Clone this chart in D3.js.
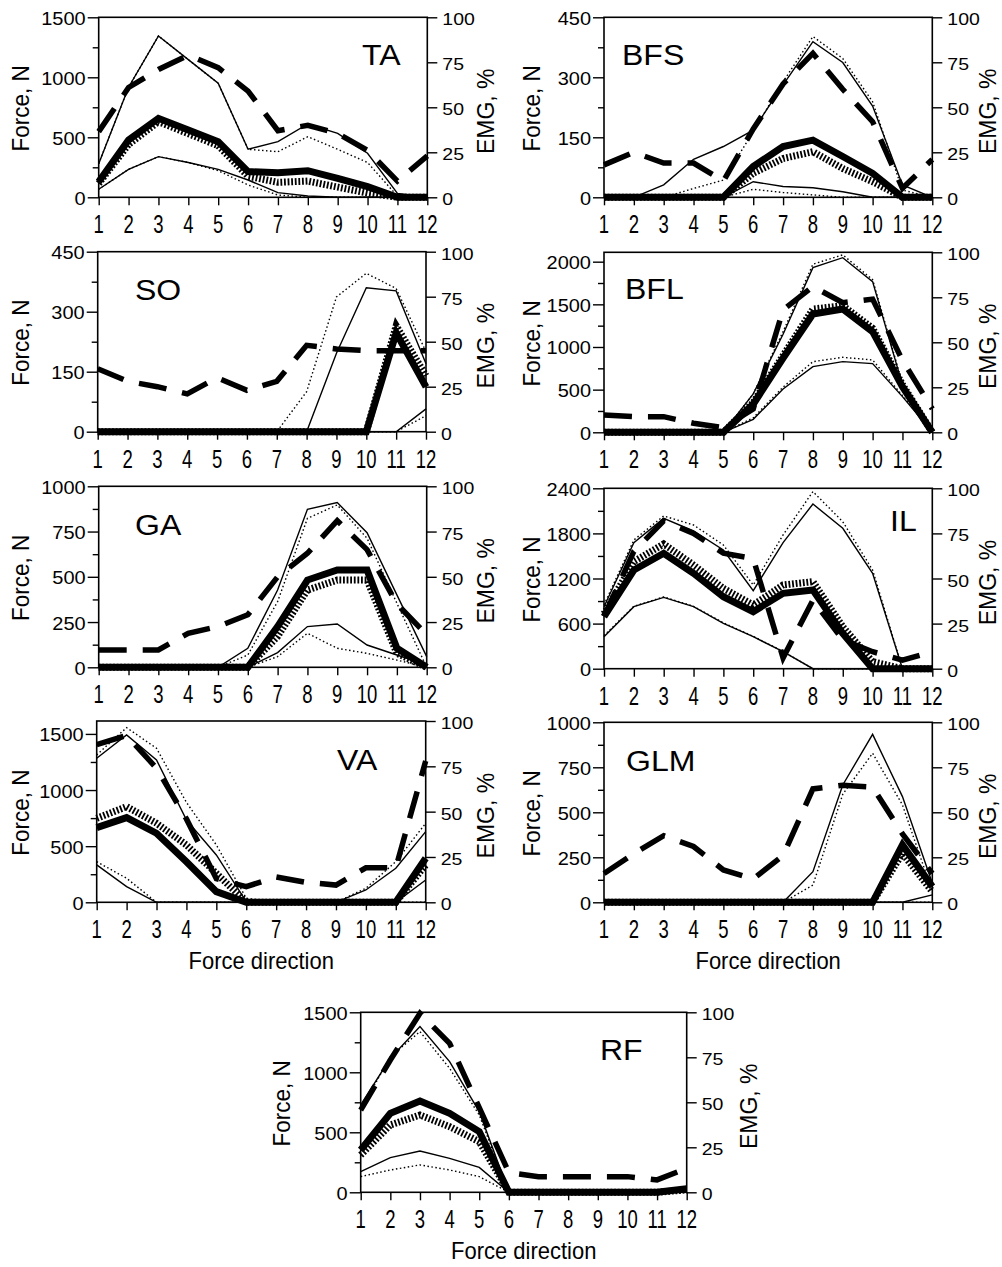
<!DOCTYPE html>
<html><head><meta charset="utf-8">
<script src="https://cdn.jsdelivr.net/npm/d3@7"></script>
<style>
body{margin:0;background:#fff}
svg{display:block}
text{font-family:"Liberation Sans",Arial,Helvetica,sans-serif;fill:#000}
</style></head>
<body><svg id="c" width="1002" height="1267"></svg>
<script>
// ---------- categories & ticks ----------
const directions = [1,2,3,4,5,6,7,8,9,10,11,12];
const emgTicks = [0,25,50,75,100];
const taForceTicks = [0,500,1000,1500],  taMinorTicks = [250,750,1250];
const bfsForceTicks = [0,150,300,450],   bfsMinorTicks = [75,225,375];
const soForceTicks = [0,150,300,450],    soMinorTicks = [75,225,375];
const bflForceTicks = [0,500,1000,1500,2000], bflMinorTicks = [250,750,1250,1750];
const gaForceTicks = [0,250,500,750,1000], gaMinorTicks = [125,375,625,875];
const ilForceTicks = [0,600,1200,1800,2400], ilMinorTicks = [300,900,1500,2100];
const vaForceTicks = [0,500,1000,1500],  vaMinorTicks = [250,750,1250];
const glmForceTicks = [0,250,500,750,1000], glmMinorTicks = [125,375,625,875];
const rfForceTicks = [0,500,1000,1500],  rfMinorTicks = [250,750,1250];

// ---------- series values (force, N ; EMG, %) ----------
// TA
const taThinHi  = [280,917,1344,1147,950,400,464,611,533,367,33,0];
const taDotHi   = [280,917,1344,1147,950,400,380,505,400,290,10,0];
const taThick   = [130,478,658,561,464,214,205,222,158,89,0,0];
const taHatch   = [115,440,630,530,430,175,125,135,85,35,0,0];
const taThinLo  = [67,233,339,290,233,144,39,11,0,0,0,0];
const taDotLo   = [67,233,339,290,222,103,19,0,0,0,0,0];
const taEmg     = [36.5,61,71,79,72,59,37,40,35.5,26,9,23];
// BFS
const bfsThinHi = [0,0,31,95,127,168,281,389,337,228,31,0];
const bfsDotHi  = [0,0,0,22,43,164,289,402,347,239,18,0];
const bfsThick  = [0,0,0,0,0,77,127,143,102,60,0,0];
const bfsHatch  = [0,0,0,0,0,60,97,114,72,39,0,0];
const bfsThinLo = [0,0,0,0,0,39,27,24,14,0,0,0];
const bfsDotLo  = [0,0,0,0,0,20,12,6,0,0,0,0];
const bfsEmg    = [18,25,19,19,9,38,63,80,60,42,5,21];
// SO
const soThinHi  = [0,0,0,0,0,0,0,0,196,360,352,170];
const soDotHi   = [0,0,0,0,0,0,0,100,337,396,358,200];
const soThick   = [0,0,0,0,0,0,0,0,0,0,247,112];
const soHatch   = [0,0,0,0,0,0,0,0,0,0,265,140];
const soThinLo  = [0,0,0,0,0,0,0,0,0,0,0,57];
const soDotLo   = [0,0,0,0,0,0,0,0,0,0,0,40];
const soEmg     = [35,28,25,21,30,23,28,48,46,45,45,45];
// BFL
const bflThinHi = [0,0,0,0,0,450,1150,1930,2047,1766,555,0];
const bflDotHi  = [0,0,0,0,0,450,1180,1970,2080,1790,570,0];
const bflThick  = [0,0,0,0,0,330,870,1387,1445,1180,535,0];
const bflHatch  = [0,0,0,0,0,350,900,1445,1484,1220,560,0];
const bflThinLo = [0,0,0,0,0,152,508,770,828,805,418,0];
const bflDotLo  = [0,0,0,0,0,170,530,828,879,848,430,0];
const bflEmg    = [9.6,8.7,8.7,5,2.6,13,68,81,72,74,40,13];
// GA
const gaThinHi  = [0,0,0,0,0,105,427,873,910,744,400,59];
const gaDotHi   = [0,0,0,0,0,68,363,823,897,713,354,0];
const gaThick   = [0,0,0,0,0,0,225,482,538,538,105,0];
const gaHatch   = [0,0,0,0,0,0,170,427,482,482,77,0];
const gaThinLo  = [0,0,0,0,0,0,81,225,239,123,68,13];
const gaDotLo   = [0,0,0,0,0,0,59,188,105,77,40,0];
const gaEmg     = [9.6,9.6,9.6,18.8,22.5,29,50,63,81,65,35,18];
// IL
const ilThinHi  = [825,1677,2000,1832,1579,1038,1677,2191,1868,1269,0,0];
const ilDotHi   = [850,1712,2032,1912,1646,1114,1779,2356,1956,1313,0,0];
const ilThick   = [692,1313,1535,1269,958,759,1003,1047,470,0,0,0];
const ilHatch   = [730,1424,1659,1380,1069,847,1114,1158,559,93,0,0];
const ilThinLo  = [426,825,949,825,603,426,226,0,0,0,0,0];
const ilDotLo   = [440,830,955,830,610,430,230,0,0,0,0,0];
const ilEmg     = [29,65,82,75,64,61,6,38,16,9.4,4.8,9.4];
// VA
const vaThinHi  = [1283,1491,1268,734,422,6,0,0,0,110,303,630];
const vaDotHi   = [1313,1556,1372,890,511,36,0,0,0,125,362,704];
const vaThick   = [665,754,615,362,95,0,0,0,0,0,0,392];
const vaHatch   = [748,852,704,511,258,0,0,0,0,0,0,333];
const vaThinLo  = [333,140,0,0,0,0,0,0,0,0,0,199];
const vaDotLo   = [362,214,0,0,0,0,0,0,0,0,0,0];
const vaEmg     = [87,92,74,46,13,8.6,14,11,9.5,19,19,78];
// GLM
const glmThinHi = [0,0,0,0,0,0,0,170,652,933,587,106];
const glmDotHi  = [0,0,0,0,0,0,0,96,600,828,541,59];
const glmThick  = [0,0,0,0,0,0,0,0,0,0,319,87];
const glmHatch  = [0,0,0,0,0,0,0,0,0,0,272,59];
const glmThinLo = [0,0,0,0,0,0,0,0,0,0,0,41];
const glmDotLo  = [0,0,0,0,0,0,0,0,0,0,0,0];
const glmEmg    = [16,27,37,31,18,13,26,63,65,64,38,16];
// RF
const rfThinHi  = [728,1117,1381,1089,672,0,0,0,0,0,0,0];
const rfDotHi   = [686,1131,1339,1033,644,0,0,0,0,0,0,0];
const rfThick   = [353,658,761,658,506,0,0,0,0,0,0,30];
const rfHatch   = [311,561,644,547,422,0,0,0,0,0,0,20];
const rfThinLo  = [172,289,344,283,208,0,0,0,0,0,0,0];
const rfDotLo   = [131,186,228,186,131,0,0,0,0,0,0,0];
const rfEmg     = [45.7,73.5,99.4,82.8,47,11,8.7,8.7,8.7,8.7,6.9,13.3];

// ---------- layout ----------
const panels = [
 {name:"TA",  x0:98.7, x1:427.3, top:17.3,  bottom:197.3,  yMax:1500, ticks:taForceTicks,  minor:taMinorTicks,
  s:[taDotLo,taThinLo,taDotHi,taThinHi,taHatch,taThick,taEmg], lab:[362,65], fx:28.5, ex:494, xt:false},
 {name:"BFS", x0:604,  x1:932.3, top:17.3,  bottom:197.3,  yMax:450,  ticks:bfsForceTicks, minor:bfsMinorTicks,
  s:[bfsDotLo,bfsThinLo,bfsDotHi,bfsThinHi,bfsHatch,bfsThick,bfsEmg], lab:[622,65], fx:540, ex:996, xt:false},
 {name:"SO",  x0:97.7, x1:426,   top:251.7, bottom:431.7,  yMax:450,  ticks:soForceTicks,  minor:soMinorTicks,
  s:[soDotLo,soThinLo,soDotHi,soThinHi,soHatch,soThick,soEmg], lab:[135,300], fx:28.5, ex:494, xt:false},
 {name:"BFL", x0:604,  x1:932.3, top:252.3, bottom:432.3,  yMax:2110, ticks:bflForceTicks, minor:bflMinorTicks,
  s:[bflDotLo,bflThinLo,bflDotHi,bflThinHi,bflHatch,bflThick,bflEmg], lab:[625,299], fx:540, ex:996, xt:false},
 {name:"GA",  x0:98.7, x1:426.7, top:486.3, bottom:667.3,  yMax:1000, ticks:gaForceTicks,  minor:gaMinorTicks,
  s:[gaDotLo,gaThinLo,gaDotHi,gaThinHi,gaHatch,gaThick,gaEmg], lab:[135,535], fx:28.5, ex:494, xt:false},
 {name:"IL",  x0:604,  x1:932.3, top:488.3, bottom:668.7,  yMax:2400, ticks:ilForceTicks,  minor:ilMinorTicks,
  s:[ilDotLo,ilThinLo,ilDotHi,ilThinHi,ilHatch,ilThick,ilEmg], lab:[890,531], fx:540, ex:996, xt:false},
 {name:"VA",  x0:96.7, x1:425.7, top:721,   bottom:902.3,  yMax:1615, ticks:vaForceTicks,  minor:vaMinorTicks,
  s:[vaDotLo,vaThinLo,vaDotHi,vaThinHi,vaHatch,vaThick,vaEmg], lab:[337,770], fx:28.5, ex:494, xt:true},
 {name:"GLM", x0:604,  x1:932.3, top:722.3, bottom:902.3,  yMax:1000, ticks:glmForceTicks, minor:glmMinorTicks,
  s:[glmDotLo,glmThinLo,glmDotHi,glmThinHi,glmHatch,glmThick,glmEmg], lab:[626,771], fx:540, ex:996, xt:true},
 {name:"RF",  x0:360.7,x1:686.7, top:1012.3,bottom:1192.3, yMax:1500, ticks:rfForceTicks,  minor:rfMinorTicks,
  s:[rfDotLo,rfThinLo,rfDotHi,rfThinHi,rfHatch,rfThick,rfEmg], lab:[600,1060], fx:289.5, ex:757, xt:true}
];

// styles for the 7 series (same order as panel.s)
const styles = [
 {w:1.4, dash:"1.5,2.5"},   // thin dotted lower
 {w:1.4, dash:null},        // thin solid lower
 {w:1.4, dash:"1.5,2.5"},   // thin dotted upper
 {w:1.4, dash:null},        // thin solid upper
 {w:7,   dash:"1.8,1.8"},   // thick hatched
 {w:7,   dash:null},        // thick solid
 {w:5.5, dash:"28,16", emg:true} // EMG dashed
];

const svg = d3.select("#c");

panels.forEach(p => {
  const g = svg.append("g");
  const x = d3.scaleLinear().domain([1,12]).range([p.x0, p.x1]);
  const y = d3.scaleLinear().domain([0,p.yMax]).range([p.bottom, p.top]);
  const yR = d3.scaleLinear().domain([0,100]).range([p.bottom, p.top]);

  // axes (ticks)
  const la = g.append("g").attr("transform",`translate(${p.x0},0)`)
    .call(d3.axisLeft(y).tickValues(p.ticks).tickSize(11).tickSizeOuter(0).tickFormat(""));
  const lm = g.append("g").attr("transform",`translate(${p.x0},0)`)
    .call(d3.axisLeft(y).tickValues(p.minor).tickSize(6).tickSizeOuter(0).tickFormat(""));
  const ra = g.append("g").attr("transform",`translate(${p.x1},0)`)
    .call(d3.axisRight(yR).tickValues(emgTicks).tickSize(10).tickSizeOuter(0).tickFormat(""));
  const ba = g.append("g").attr("transform",`translate(0,${p.bottom})`)
    .call(d3.axisBottom(x).tickValues(directions).tickSize(8).tickSizeOuter(0).tickFormat(""));
  [la,lm,ra,ba].forEach(a => {
    a.select(".domain").remove();
    a.selectAll("line").attr("stroke","#000").attr("stroke-width",1.4);
  });

  // frame
  g.append("rect").attr("x",p.x0).attr("y",p.top)
    .attr("width",p.x1-p.x0).attr("height",p.bottom-p.top)
    .attr("fill","none").attr("stroke","#000").attr("stroke-width",1.6);

  // tick labels
  g.selectAll(".yl").data(p.ticks).join("text")
    .attr("transform", d => `translate(${p.x0-13},${y(d)+7.5}) scale(1,0.9)`)
    .attr("text-anchor","end").style("font-size","20px").text(d => d);
  g.selectAll(".yr").data(emgTicks).join("text")
    .attr("transform", d => `translate(${p.x1+15},${yR(d)+8}) scale(1,0.88)`)
    .attr("text-anchor","start").style("font-size","19.5px").text(d => d);
  g.selectAll(".xl").data(directions).join("text")
    .attr("transform", d => `translate(${x(d)},${p.bottom+36}) scale(1,1.4)`)
    .attr("text-anchor","middle").style("font-size","18.5px").text(d => d);

  // series
  p.s.forEach((vals, k) => {
    const st = styles[k];
    const ys = st.emg ? yR : y;
    const line = d3.line().x((d,i) => x(directions[i])).y(d => ys(d)).curve(d3.curveLinear);
    g.append("path").datum(vals).attr("d", line)
      .attr("fill","none").attr("stroke","#000")
      .attr("stroke-width", st.w)
      .attr("stroke-dasharray", st.dash)
      .attr("stroke-linejoin","miter").attr("stroke-miterlimit",3)
      .attr("stroke-linecap","butt");
  });

  // panel label
  g.append("text").attr("transform",`translate(${p.lab[0]},${p.lab[1]}) scale(1,0.9)`)
    .style("font-size","32px").text(p.name);

  // axis titles
  const cy = (p.top + p.bottom)/2;
  g.append("text").attr("transform",`translate(${p.fx},${cy+1}) rotate(-90) scale(1,1.08)`)
    .attr("text-anchor","middle").style("font-size","22.5px").text("Force, N");
  g.append("text").attr("transform",`translate(${p.ex},${cy+4}) rotate(-90)`)
    .attr("text-anchor","middle").style("font-size","23px").text("EMG, %");
  if (p.xt) {
    g.append("text").attr("transform",`translate(${(p.x0+p.x1)/2},${p.bottom+67}) scale(1,1.08)`)
      .attr("text-anchor","middle").style("font-size","22px").text("Force direction");
  }
});
</script></body></html>
